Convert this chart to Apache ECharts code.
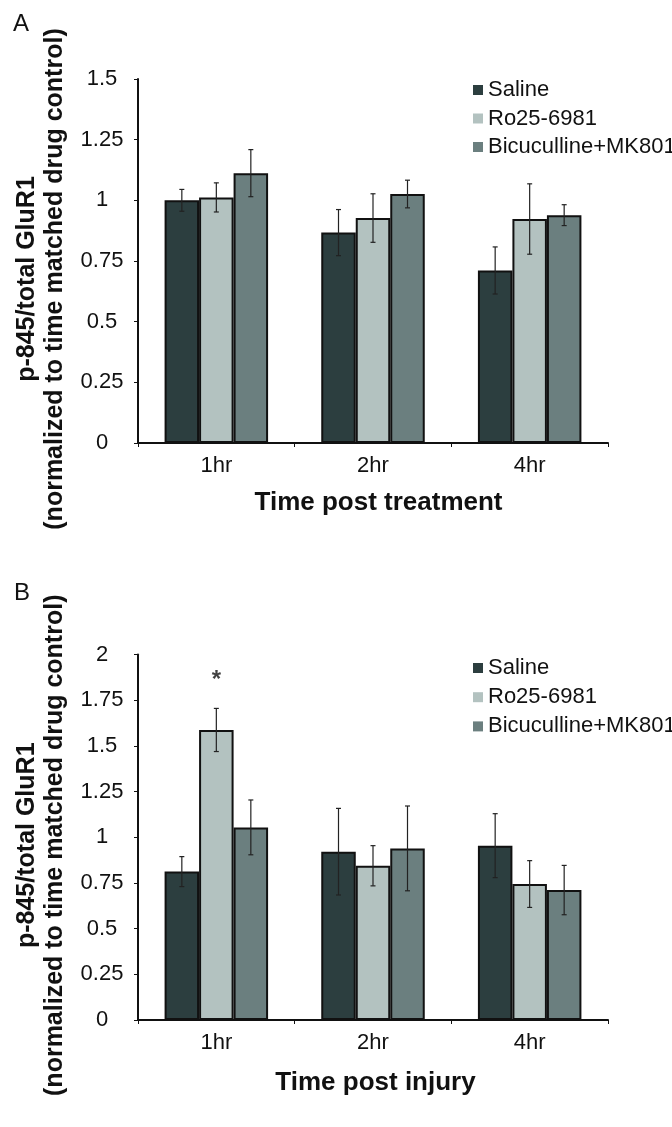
<!DOCTYPE html>
<html>
<head>
<meta charset="utf-8">
<script src="https://cdn.jsdelivr.net/npm/echarts@6/dist/echarts.min.js"></script>
<style>
  html, body { margin: 0; padding: 0; background: #fff; }
  #chart { width: 672px; height: 1127px; }
</style>
</head>
<body>
<div id="chart"></div>
<script>
  const TIMES = ['1hr', '2hr', '4hr'];
  const GROUPS = ['Saline', 'Ro25-6981', 'Bicuculline+MK801'];
  const COLORS = ['#2c3e3f', '#b3c2c0', '#6b7f7f'];

  // panel A: time post treatment
  const A_SALINE = [1.0, 0.867, 0.711];
  const A_RO = [1.012, 0.927, 0.923];
  const A_BIC = [1.112, 1.026, 0.939];
  const A_SALINE_ERR = [0.045, 0.095, 0.097];
  const A_RO_ERR = [0.06, 0.10, 0.145];
  const A_BIC_ERR = [0.097, 0.057, 0.043];

  // panel B: time post injury
  const B_SALINE = [0.812, 0.921, 0.954];
  const B_RO = [1.587, 0.844, 0.744];
  const B_BIC = [1.054, 0.939, 0.711];
  const B_SALINE_ERR = [0.082, 0.237, 0.175];
  const B_RO_ERR = [0.118, 0.11, 0.128];
  const B_BIC_ERR = [0.15, 0.232, 0.135];

  // significance marker: [time index, y value]
  const B_STARS = [[0, 1.86]];

  const Y_TITLE = 'p-845/total GluR1\n(normalized to time matched drug control)';
  const FONT = '"Liberation Sans", Arial, sans-serif';
  const BAR_W = 34.5;

  const chart = echarts.init(document.getElementById('chart'));

  function barSeries(name, values, color, gridIdx) {
    return {
      type: 'bar',
      name,
      xAxisIndex: gridIdx,
      yAxisIndex: gridIdx,
      data: values,
      barWidth: BAR_W,
      barGap: '0%',
      itemStyle: { color, borderColor: '#111', borderWidth: 2 },
      emphasis: { disabled: true },
    };
  }

  function errorSeries(values, errs, slot, gridIdx) {
    return {
      type: 'custom',
      xAxisIndex: gridIdx,
      yAxisIndex: gridIdx,
      z: 5,
      silent: true,
      data: values.map((v, i) => [i, v, errs[i]]),
      renderItem: (params, api) => {
        const cat = api.value(0);
        const v = api.value(1);
        const e = api.value(2);
        const hi = api.coord([cat, v + e]);
        const lo = api.coord([cat, v - e]);
        const x = hi[0] + slot * BAR_W;
        const style = { stroke: '#222', lineWidth: 1.2 };
        return {
          type: 'group',
          children: [
            { type: 'line', shape: { x1: x, y1: hi[1], x2: x, y2: lo[1] }, style },
            { type: 'line', shape: { x1: x - 2.5, y1: hi[1], x2: x + 2.5, y2: hi[1] }, style },
            { type: 'line', shape: { x1: x - 2.5, y1: lo[1], x2: x + 2.5, y2: lo[1] }, style },
          ],
        };
      },
    };
  }

  function xAxis(gridIdx, name, gap, pad) {
    return {
      type: 'category',
      gridIndex: gridIdx,
      data: TIMES,
      axisLine: { lineStyle: { color: '#111', width: 2 } },
      axisTick: { show: true, length: 4, lineStyle: { color: '#111', width: 1 } },
      axisLabel: { fontSize: 22, color: '#111', fontFamily: FONT, margin: 12 },
      name,
      nameLocation: 'middle',
      nameGap: gap,
      nameTextStyle: {
        fontSize: 26, fontWeight: 'bold', color: '#111', fontFamily: FONT, padding: pad,
      },
    };
  }

  function yAxis(gridIdx, max, pad) {
    return {
      type: 'value',
      gridIndex: gridIdx,
      min: 0,
      max,
      interval: 0.25,
      splitLine: { show: false },
      axisLine: { show: true, lineStyle: { color: '#111', width: 2 } },
      axisTick: { show: true, length: 4, lineStyle: { color: '#111', width: 1 } },
      axisLabel: { fontSize: 22, color: '#111', fontFamily: FONT, align: 'center', margin: 36 },
      name: Y_TITLE,
      nameLocation: 'middle',
      nameGap: 67,
      nameTextStyle: {
        fontSize: 25, fontWeight: 'bold', color: '#111', fontFamily: FONT,
        lineHeight: 28.5, padding: pad,
      },
    };
  }

  function legend(top, gap) {
    return {
      orient: 'vertical',
      left: 468,
      top,
      itemWidth: 10,
      itemHeight: 10,
      itemGap: gap,
      icon: 'rect',
      selectedMode: false,
      data: GROUPS,
      itemStyle: { borderWidth: 0 },
      textStyle: { fontSize: 22, color: '#111', fontFamily: FONT, lineHeight: 22 },
    };
  }

  const option = {
    animation: false,
    backgroundColor: '#fff',
    color: COLORS,
    grid: [
      { left: 138, top: 79, width: 470, height: 364, outerBoundsMode: 'none' },
      { left: 138, top: 654.5, width: 470, height: 365.5, outerBoundsMode: 'none' },
    ],
    legend: [legend(74, 6.5), legend(652, 7.2)],
    xAxis: [
      xAxis(0, 'Time post treatment', 47, [0, 0, 0, 11]),
      xAxis(1, 'Time post injury', 50, [0, 0, 0, 5]),
    ],
    yAxis: [yAxis(0, 1.5, [0, 36, 0, 0]), yAxis(1, 2, [0, 16, 0, 0])],
    graphic: [
      { type: 'text', left: 13, top: 12, style: { text: 'A', fontSize: 24, fill: '#111', fontFamily: FONT } },
      { type: 'text', left: 14, top: 581, style: { text: 'B', fontSize: 24, fill: '#111', fontFamily: FONT } },
    ],
    series: [
      barSeries(GROUPS[0], A_SALINE, COLORS[0], 0),
      barSeries(GROUPS[1], A_RO, COLORS[1], 0),
      barSeries(GROUPS[2], A_BIC, COLORS[2], 0),
      errorSeries(A_SALINE, A_SALINE_ERR, -1, 0),
      errorSeries(A_RO, A_RO_ERR, 0, 0),
      errorSeries(A_BIC, A_BIC_ERR, 1, 0),
      barSeries(GROUPS[0], B_SALINE, COLORS[0], 1),
      barSeries(GROUPS[1], B_RO, COLORS[1], 1),
      barSeries(GROUPS[2], B_BIC, COLORS[2], 1),
      errorSeries(B_SALINE, B_SALINE_ERR, -1, 1),
      errorSeries(B_RO, B_RO_ERR, 0, 1),
      errorSeries(B_BIC, B_BIC_ERR, 1, 1),
      {
        type: 'scatter',
        xAxisIndex: 1,
        yAxisIndex: 1,
        symbolSize: 0,
        silent: true,
        data: B_STARS,
        label: {
          show: true,
          position: 'inside',
          formatter: '*',
          fontSize: 24,
          fontWeight: 'bold',
          color: '#111',
          fontFamily: FONT,
        },
      },
    ],
  };

  chart.setOption(option);
</script>
</body>
</html>
